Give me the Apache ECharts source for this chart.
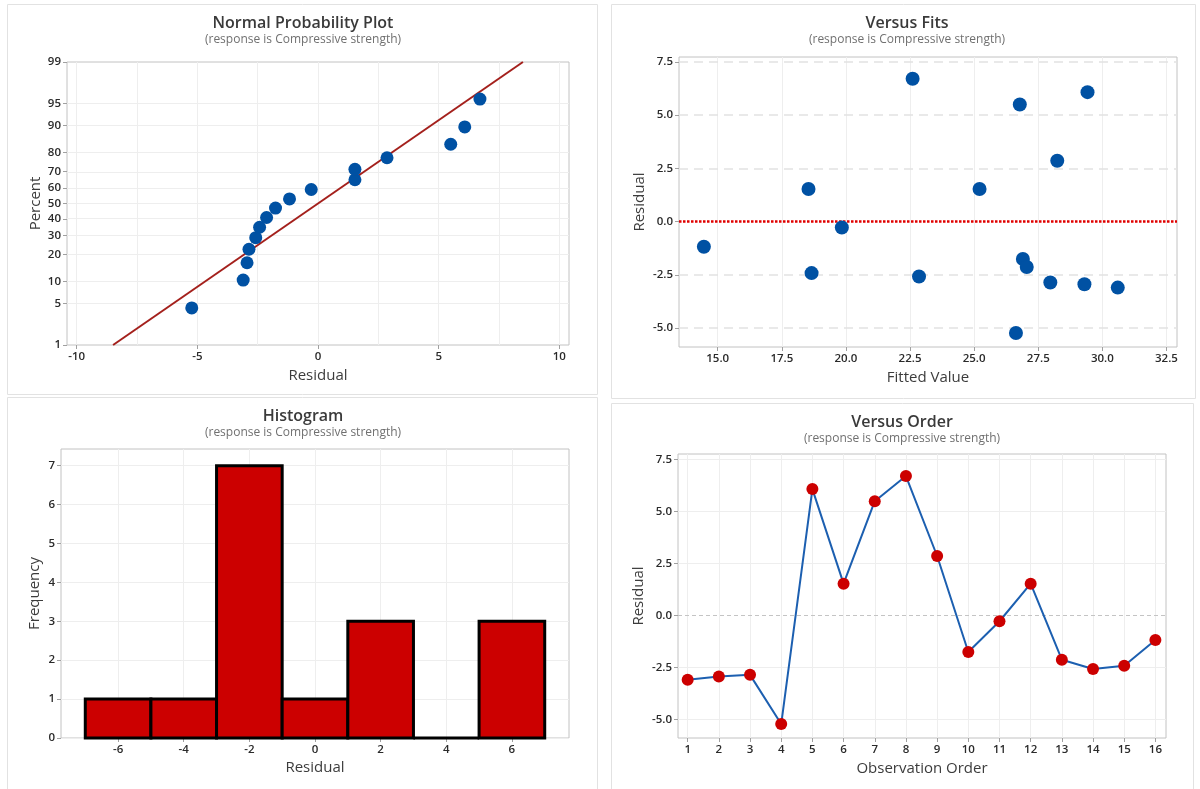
<!DOCTYPE html>
<html><head><meta charset="utf-8">
<script src="https://cdn.jsdelivr.net/npm/echarts@6/dist/echarts.min.js"></script>
<style>html,body{margin:0;padding:0;background:#fff}#c{width:1200px;height:789px}</style>
</head><body><div id="c"></div>
<script>
// ---------------- data ----------------
const observationOrder = [1,2,3,4,5,6,7,8,9,10,11,12,13,14,15,16];
const residuals = [-3.1,-2.94,-2.86,-5.23,6.08,1.53,5.5,6.71,2.86,-1.76,-0.28,1.53,-2.13,-2.58,-2.42,-1.18];
const fittedValues = [30.6,29.3,27.97,26.63,29.42,18.54,26.78,22.6,28.24,26.9,19.84,25.21,27.05,22.85,18.66,14.46];
const probPercents = [4.3,10.4,16.5,22.6,28.7,34.8,40.9,47.0,53.0,59.1,65.2,71.3,77.4,83.5,89.6,95.7];
const percentTicks = [1,5,10,20,30,40,50,60,70,80,90,95,99];
const fitMean = 0, fitStdDev = 3.65;
const histBinCenters = [-6,-4,-2,0,2,4,6];
const histCounts = [1,1,7,1,3,0,3];
const histBinWidth = 2;
const nppXTicks = [-10,-5,0,5,10];
const nppXGrid = [-10,-7.5,-5,-2.5,0,2.5,5,7.5,10];
const fitsXTicks = [15,17.5,20,22.5,25,27.5,30,32.5];
const fitsYTicks = [-5,-2.5,0,2.5,5,7.5];
const histXTicks = [-6,-4,-2,0,2,4,6];
const histYTicks = [0,1,2,3,4,5,6,7];
const orderYTicks = [-5,-2.5,0,2.5,5,7.5];
const subtitle = '(response is Compressive strength)';

// inverse standard normal CDF (probability-scale axis transform)
function invNorm(p){
 const a=[-3.969683028665376e+01,2.209460984245205e+02,-2.759285104469687e+02,1.383577518672690e+02,-3.066479806614716e+01,2.506628277459239e+00];
 const b=[-5.447609879822406e+01,1.615858368580409e+02,-1.556989798598866e+02,6.680131188771972e+01,-1.328068155288572e+01];
 const c=[-7.784894002430293e-03,-3.223964580411365e-01,-2.400758277161838e+00,-2.549732539343734e+00,4.374664141464968e+00,2.938163982698783e+00];
 const d=[7.784695709041462e-03,3.224671290700398e-01,2.445134137142996e+00,3.754408661907416e+00];
 const pl=0.02425, ph=1-pl; let q,r;
 if(p<pl){q=Math.sqrt(-2*Math.log(p));return (((((c[0]*q+c[1])*q+c[2])*q+c[3])*q+c[4])*q+c[5])/((((d[0]*q+d[1])*q+d[2])*q+d[3])*q+1);}
 if(p>ph){q=Math.sqrt(-2*Math.log(1-p));return -(((((c[0]*q+c[1])*q+c[2])*q+c[3])*q+c[4])*q+c[5])/((((d[0]*q+d[1])*q+d[2])*q+d[3])*q+1);}
 q=p-0.5;r=q*q;return (((((a[0]*r+a[1])*r+a[2])*r+a[3])*r+a[4])*r+a[5])*q/(((((b[0]*r+b[1])*r+b[2])*r+b[3])*r+b[4])*r+1);
}

const F = "'Open Sans', 'Noto Sans', sans-serif";
const zTicks = percentTicks.map(p => invNorm(p/100));
const zMin = invNorm(0.01), zMax = invNorm(0.99);
const sortedRes = residuals.slice().sort((a,b)=>a-b);

function mkAxis(gi, min, max, ticks, fmt, name, nameGap){
  return {type:'value', gridIndex:gi, min:min, max:max, name:name, nameLocation:'middle', nameGap:nameGap,
    nameTextStyle:{fontFamily:F, fontSize:15, color:'#3c3c3c'},
    axisLine:{show:false, onZero:false}, splitLine:{show:false},
    axisTick:{show:true, customValues:ticks, length:4, lineStyle:{color:'#a0a0a0'}},
    axisLabel:{customValues:ticks, formatter:fmt, fontFamily:F, fontSize:11.5, fontWeight:600, color:'#2a2a2a', margin:6}};
}
const lightGrid = {color:'#eeeeee', width:1, type:'solid'};
function gridSeries(xi, xs, ys, xStyle, yStyle, extra){
  return {type:'scatter', xAxisIndex:xi, yAxisIndex:xi, data:[], z:1, silent:true,
    markLine:{silent:true, z:1, symbol:'none', label:{show:false}, animation:false,
      data:[...xs.map(v=>({xAxis:v, lineStyle:xStyle})), ...ys.map(v=>({yAxis:v, lineStyle:yStyle})), ...(extra||[])]}};
}
const gridCommon = {show:true, borderColor:'#c2c2c2', borderWidth:1, backgroundColor:'#fff', containLabel:false, outerBoundsMode:'none'};
const fmt1 = v => v.toFixed(1);

const titles = [
  {text:'Normal Probability Plot', x:303, y:15},
  {text:'Versus Fits', x:907, y:15},
  {text:'Histogram', x:303, y:408},
  {text:'Versus Order', x:902, y:414}
].map(t => ({text:t.text, subtext:subtitle, left:t.x, top:t.y, textAlign:'center', itemGap:3, padding:0,
  textStyle:{fontFamily:F, fontSize:16, fontWeight:600, color:'#3a3a3a'},
  subtextStyle:{fontFamily:F, fontSize:12, color:'#707070'}}));

const option = {
  animation:false,
  backgroundColor:'#fff',
  title: titles,
  graphic: [
    {type:'rect', shape:{x:7.5, y:4.5, width:590, height:390}, style:{fill:'none', stroke:'#e2e2e2', lineWidth:1}, silent:true},
    {type:'rect', shape:{x:611.5, y:4.5, width:584, height:394}, style:{fill:'none', stroke:'#e2e2e2', lineWidth:1}, silent:true},
    {type:'rect', shape:{x:7.5, y:397.5, width:590, height:400}, style:{fill:'none', stroke:'#e2e2e2', lineWidth:1}, silent:true},
    {type:'rect', shape:{x:611.5, y:403.5, width:582, height:400}, style:{fill:'none', stroke:'#e2e2e2', lineWidth:1}, silent:true}
  ],
  grid: [
    Object.assign({left:67, top:62, width:502, height:283}, gridCommon),
    Object.assign({left:679, top:57, width:498, height:290}, gridCommon),
    Object.assign({left:61, top:449, width:508, height:289}, gridCommon),
    Object.assign({left:678, top:454, width:488, height:284}, gridCommon)
  ],
  xAxis: [
    mkAxis(0, -10.4, 10.4, nppXTicks, v => String(Math.round(v)), 'Residual', 23),
    mkAxis(1, 13.49, 32.91, fitsXTicks, fmt1, 'Fitted Value', 23),
    mkAxis(2, -7.74, 7.74, histXTicks, v => String(Math.round(v)), 'Residual', 22),
    mkAxis(3, 0.69, 16.34, observationOrder, v => String(Math.round(v)), 'Observation Order', 23)
  ],
  yAxis: [
    mkAxis(0, zMin, zMax, zTicks, v => { let bi=0; zTicks.forEach((z,i)=>{ if(Math.abs(z-v)<Math.abs(zTicks[bi]-v)) bi=i; }); return String(percentTicks[bi]); }, 'Percent', 24),
    mkAxis(1, -5.89, 7.73, fitsYTicks, fmt1, 'Residual', 32),
    mkAxis(2, 0, 7.43, histYTicks, v => String(Math.round(v)), 'Frequency', 19),
    mkAxis(3, -5.9, 7.77, orderYTicks, fmt1, 'Residual', 32)
  ],
  series: [
    // gridlines (drawn beneath the marks)
    gridSeries(0, nppXGrid, zTicks, lightGrid, lightGrid),
    gridSeries(1, fitsXTicks, fitsYTicks.filter(v=>v!==0), lightGrid, {color:'#e2e2e2', width:1.5, type:[9,6]}),
    gridSeries(2, histXTicks, histYTicks, lightGrid, lightGrid),
    gridSeries(3, observationOrder, orderYTicks.filter(v=>v!==0), lightGrid, lightGrid,
      [{yAxis:0, lineStyle:{color:'#c4c4c4', width:1, type:[4,3]}}]),
    // Normal probability plot
    {type:'line', xAxisIndex:0, yAxisIndex:0, symbol:'none', lineStyle:{color:'#a4201c', width:2}, z:2,
      data:[[fitMean+fitStdDev*zMin, zMin],[fitMean+fitStdDev*zMax, zMax]]},
    {type:'scatter', xAxisIndex:0, yAxisIndex:0, symbolSize:13, itemStyle:{color:'#0051a3', opacity:1},
      data: sortedRes.map((r,i)=>[r, invNorm(probPercents[i]/100)]), z:3},
    // Versus fits: zero reference line then points
    {type:'scatter', xAxisIndex:1, yAxisIndex:1, data:[], z:2, silent:true,
      markLine:{silent:true, z:2, symbol:'none', label:{show:false}, animation:false,
        data:[{yAxis:0, lineStyle:{color:'#e00000', width:2.5, type:[2.5,1.5]}}]}},
    {type:'scatter', xAxisIndex:1, yAxisIndex:1, symbolSize:14, itemStyle:{color:'#0051a3', opacity:1}, z:3,
      data: fittedValues.map((f,i)=>[f, residuals[i]])},
    // Histogram
    {type:'custom', xAxisIndex:2, yAxisIndex:2, z:3,
      data: histBinCenters.map((c,i)=>[c, histCounts[i]]),
      renderItem: function(params, api){
        const c = api.value(0), n = api.value(1);
        const p0 = api.coord([c - histBinWidth/2, n]);
        const p1 = api.coord([c + histBinWidth/2, 0]);
        return {type:'rect', shape:{x:p0[0], y:p0[1], width:p1[0]-p0[0], height:p1[1]-p0[1]},
          style:{fill:'#cc0000', stroke:'#000', lineWidth:3}};
      }},
    // Versus order
    {type:'line', xAxisIndex:3, yAxisIndex:3, symbol:'circle', symbolSize:12, z:3,
      lineStyle:{color:'#1c5fb0', width:2}, itemStyle:{color:'#cc0000', borderWidth:0},
      data: observationOrder.map((o,i)=>[o, residuals[i]])}
  ]
};
const chart = echarts.init(document.getElementById('c'), null, {renderer:'canvas'});
chart.setOption(option);
</script></body></html>
